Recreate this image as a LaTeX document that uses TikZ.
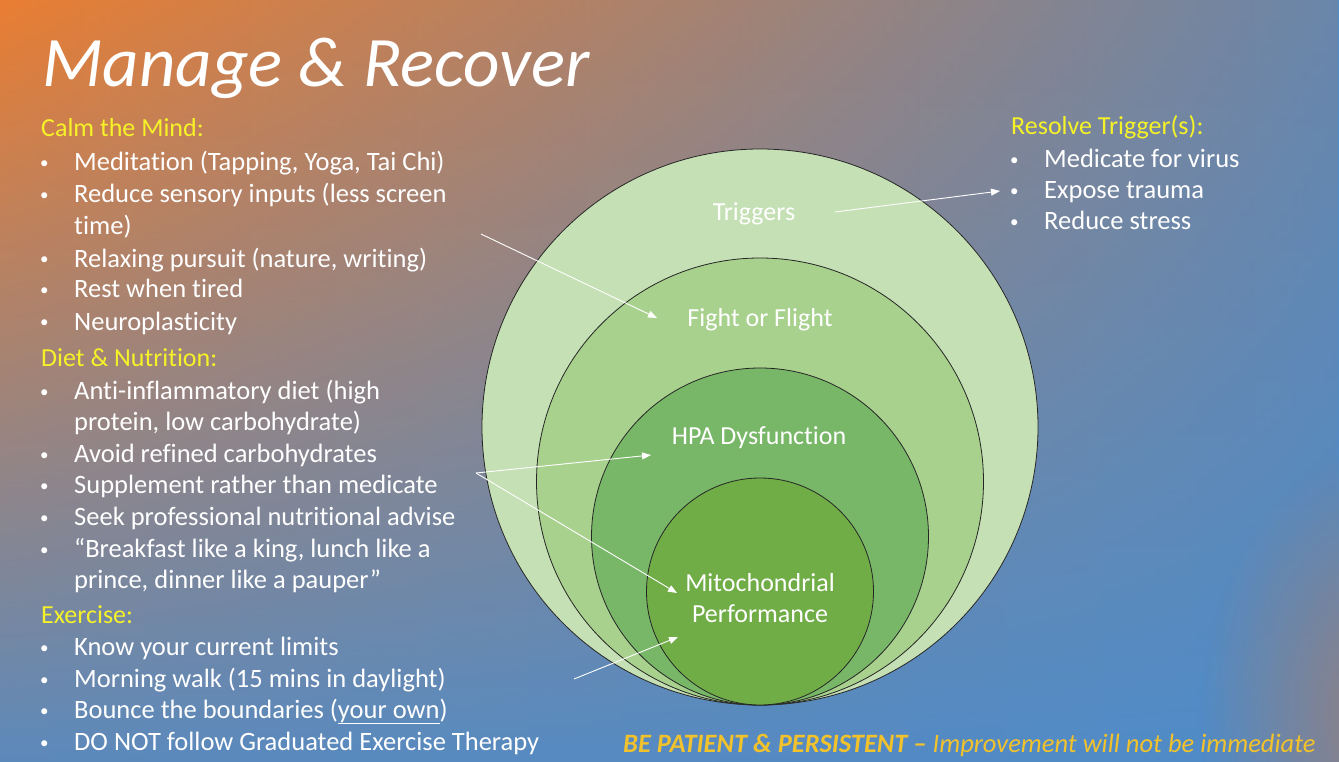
\documentclass[tikz,border=0pt]{standalone}
\usepackage{fontspec}
\setmainfont{Carlito}[Ligatures={NoCommon}]
\usetikzlibrary{arrows.meta,fadings}

\definecolor{bgorange}{RGB}{234,126,50}
\definecolor{bgtopright}{RGB}{106,134,170}
\definecolor{bgbotleft}{RGB}{92,138,188}
\definecolor{bgbotright}{RGB}{78,140,202}
\definecolor{bgbrown}{RGB}{156,126,118}
\definecolor{headyellow}{RGB}{246,242,40}
\definecolor{gold}{RGB}{242,194,44}
\definecolor{ringA}{RGB}{197,224,180}
\definecolor{ringB}{RGB}{169,209,142}
\definecolor{ringC}{RGB}{120,183,104}
\definecolor{ringD}{RGB}{112,173,71}

\tikzfading[name=fadedown, top color=transparent!0, middle color=transparent!25, bottom color=transparent!100]
\tikzfading[name=fadecorner, inner color=transparent!0, outer color=transparent!100]

\newcommand{\bul}{\makebox[36pt][l]{\hspace{2pt}\raisebox{2pt}{\fontsize{17}{17}\selectfont •}}}

\begin{document}
\begin{tikzpicture}[x=1pt, y=-1pt,
    ring/.style={circle, draw=black!85, line width=0.8pt, inner sep=0pt, outer sep=0pt},
    lbl/.style={text=white, font=\fontsize{26}{31}\selectfont, align=center},
    head/.style={anchor=base west, inner sep=0pt, text=headyellow, font=\fontsize{26}{31}\selectfont},
    item/.style={anchor=base west, inner sep=0pt, text=white, font=\fontsize{26.5}{31}\selectfont},
    arr/.style={draw=white, line width=0.9pt, -{Triangle[length=9pt, width=7pt]}}]
    \useasboundingbox (0,0) rectangle (1339,762);

    % background
    \shade[left color=bgbotleft, right color=bgbotright] (0,0) rectangle (1339,762);
    \shade[left color=bgorange, right color=bgtopright, path fading=fadedown] (0,0) rectangle (1339,762);
    \fill[bgbrown, path fading=fadecorner] (1400,720) ellipse (200 and 280);

    % title
    \node[anchor=base west, inner sep=0pt, text=white, font=\fontsize{71}{80}\selectfont\itshape] at (42,87) (title) {Manage \& Recover};

    % rings, all touching at the bottom
    \node[ring, fill=ringA, minimum size=556] at (760,427) (trig) {};
    \node[ring, fill=ringB, minimum size=447] at (760,481.5) (fof) {};
    \node[ring, fill=ringC, minimum size=337] at (760,536.5) (hpa) {};
    \node[ring, fill=ringD, minimum size=227] at (760,591.5) (mito) {};

    \node[lbl] at (754,214) (trigl) {Triggers};
    \node[lbl] at (760,320) (fofl) {Fight or Flight};
    \node[lbl] at (759,438) (hpal) {HPA Dysfunction};
    \node[lbl] at (760,598) (mitol) {Mitochondrial\\Performance};

    % left lists
    \node[head] at (41,137) (calm) {Calm the Mind:};
    \node[item] at (38,171) (c1) {\bul Meditation (Tapping, Yoga, Tai Chi)};
    \node[item] at (38,203) (c2) {\bul Reduce sensory inputs (less screen};
    \node[item] at (74,235) (c2b) {time)};
    \node[item] at (38,267) (c3) {\bul Relaxing pursuit (nature, writing)};
    \node[item] at (38,298) (c4) {\bul Rest when tired};
    \node[item] at (38,330) (c5) {\bul Neuroplasticity};

    \node[head] at (41,366) (diet) {Diet \& Nutrition:};
    \node[item] at (38,399) (d1) {\bul Anti-inflammatory diet (high};
    \node[item] at (74,430) (d1b) {protein, low carbohydrate)};
    \node[item] at (38,462) (d2) {\bul Avoid refined carbohydrates};
    \node[item] at (38,493) (d3) {\bul Supplement rather than medicate};
    \node[item] at (38,525) (d4) {\bul Seek professional nutritional advise};
    \node[item] at (38,557) (d5) {\bul “Breakfast like a king, lunch like a};
    \node[item] at (74,588) (d5b) {prince, dinner like a pauper”};

    \node[head] at (41,623) (exer) {Exercise:};
    \node[item] at (38,655) (e1) {\bul Know your current limits};
    \node[item] at (38,687) (e2) {\bul Morning walk (15 mins in daylight)};
    \node[item] at (38,718) (e3) {\bul Bounce the boundaries (\underline{your own})};
    \node[item] at (38,750) (e4) {\bul DO NOT follow Graduated Exercise Therapy};

    % right list
    \node[head] at (1011,135) (resolve) {Resolve Trigger(s):};
    \node[item] at (1008,168) (r1) {\bul Medicate for virus};
    \node[item] at (1008,199) (r2) {\bul Expose trauma};
    \node[item] at (1008,230) (r3) {\bul Reduce stress};

    % footer
    \node[anchor=base west, inner sep=0pt, text=gold, font=\fontsize{26.5}{30}\selectfont\itshape] at (623,752) (foot) {\textbf{BE PATIENT \& PERSISTENT –} Improvement will not be immediate};

    % arrows
    \coordinate (calmend) at (481,234);
    \coordinate (fofend) at (657,318);
    \coordinate (dietend) at (476,473);
    \coordinate (hpaend) at (651,455);
    \coordinate (mitoend) at (677,593);
    \coordinate (exerend) at (574,679);
    \coordinate (mitoend2) at (678,637);
    \coordinate (trigend) at (835,212);
    \coordinate (resolveend) at (1000,191);

    \draw[arr] (calmend) -- (fofend);
    \draw[arr] (dietend) -- (hpaend);
    \draw[arr] (dietend) -- (mitoend);
    \draw[arr] (exerend) -- (mitoend2);
    \draw[arr] (trigend) -- (resolveend);
\end{tikzpicture}
\end{document}
